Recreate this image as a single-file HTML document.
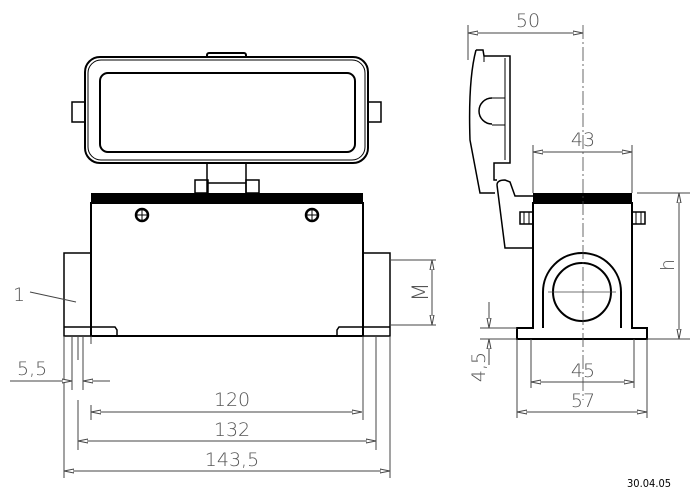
<!DOCTYPE html>
<html><head><style>html,body{margin:0;padding:0;background:#fff}svg{display:block}
text{font-family:"DejaVu Sans","Liberation Sans",sans-serif;font-stretch:condensed;font-size:19px;fill:#555;font-weight:300}</style></head>
<body>
<svg width="700" height="491" viewBox="0 0 700 491" xmlns="http://www.w3.org/2000/svg">
<defs>
<marker id="a" viewBox="0 0 10 6" refX="10" refY="3" markerWidth="10" markerHeight="6" orient="auto-start-reverse" markerUnits="userSpaceOnUse"><path d="M0,1 L10,3 L0,5 Z" fill="#fff" stroke="#444" stroke-width="1"/></marker>
</defs>
<g fill="none" stroke="#000" stroke-width="2">
<rect x="207" y="53" width="39" height="6" rx="2" fill="#fff"/>
<rect x="85" y="57" width="283" height="106" rx="15" fill="#fff"/>
<rect x="88" y="60" width="277" height="100" rx="13" stroke-width="1"/>
<rect x="100" y="73" width="255" height="79" rx="8"/>
<rect x="72" y="102" width="13" height="20" stroke-width="1.5"/>
<rect x="368" y="102" width="13" height="20" stroke-width="1.5"/>
<path d="M207,163 V193 M246,163 V193 M207,183 H246" stroke-width="1.5"/>
<rect x="195" y="180" width="13" height="13" stroke-width="1.5"/>
<rect x="246" y="180" width="13" height="13" stroke-width="1.5"/>
<rect x="91" y="203" width="272" height="133"/>
<rect x="64" y="253" width="27" height="83" stroke-width="1.5"/>
<rect x="363" y="253" width="27" height="83" stroke-width="1.5"/>
<path d="M64,327 H115 L117,330 V336 M390,327 H339 L337,330 V336" stroke-width="1.5"/>
<circle cx="142" cy="215" r="6" stroke-width="2.5"/>
<circle cx="312" cy="215" r="6" stroke-width="2.5"/>
<path d="M136,215 H148 M142,209 V221 M306,215 H318 M312,209 V221" stroke-width="1"/>
<path d="M533,203 V328 H517 V339 H647 V328 H632 V203 Z" fill="#fff"/>
<path d="M543,328 V292 A39,39 0 0 1 621,292 V328"/>
<circle cx="582" cy="292" r="29"/>
<rect x="520" y="212" width="13" height="12" stroke-width="1.5"/>
<rect x="632" y="212" width="13" height="12" stroke-width="1.5"/>
<path d="M524,212 V224 M529,212 V224 M636,212 V224 M641,212 V224" stroke-width="1"/>
<path d="M476,50 H483 L484,56 H510 V163 H494 V180 H497" stroke-width="1.5"/>
<path d="M476,50 Q468,80 470,140 L480,193 H495" stroke-width="1.5"/>
<path d="M484,56 V62 M505,58 V160 M492,98 H505 M492,125 H505" stroke-width="1"/>
<path d="M492,98 A13,13 0 0 0 492,124" stroke-width="1.5"/>
<path d="M497,185 Q497,180 505,180 L510,182 L515,196 H533 M497,185 L505,248 H533" stroke-width="1.5"/>
</g>
<rect x="91" y="193" width="272" height="10" fill="#000"/>
<rect x="533" y="193" width="99" height="10" fill="#000"/>
<g stroke="#444" stroke-width="1" fill="none">
<path d="M64,336 V478 M72,336 V390 M78,336 V360 M83,336 V390 M78,400 V450 M91,336 V344 M91,405 V420 M376,336 V450 M390,336 V478 M363,336 V420"/>
<path d="M390,260 H436 M390,325 H436 M637,193 H690 M647,339 H690 M480,328 H517 M480,339 H517 M531,339 V388 M634,339 V388 M517,339 V418 M647,339 V418 M468,25 V60 M533,145 V193 M632,145 V193"/>
<path d="M583,25 V400" stroke-dasharray="14,3,2,3" stroke-width="0.8"/>
<path d="M548,292 H616" stroke-width="0.8"/>
<line x1="10" y1="381" x2="72" y2="381" marker-end="url(#a)"/>
<line x1="110" y1="381" x2="83" y2="381" marker-end="url(#a)"/>
<line x1="91" y1="412" x2="362" y2="412" marker-start="url(#a)" marker-end="url(#a)"/>
<line x1="78" y1="441" x2="376" y2="441" marker-start="url(#a)" marker-end="url(#a)"/>
<line x1="64" y1="471" x2="390" y2="471" marker-start="url(#a)" marker-end="url(#a)"/>
<line x1="432" y1="260" x2="432" y2="325" marker-start="url(#a)" marker-end="url(#a)"/>
<line x1="468" y1="33" x2="583" y2="33" marker-start="url(#a)" marker-end="url(#a)"/>
<line x1="533" y1="152" x2="632" y2="152" marker-start="url(#a)" marker-end="url(#a)"/>
<line x1="679" y1="193" x2="679" y2="339" marker-start="url(#a)" marker-end="url(#a)"/>
<line x1="531" y1="382" x2="634" y2="382" marker-start="url(#a)" marker-end="url(#a)"/>
<line x1="517" y1="412" x2="647" y2="412" marker-start="url(#a)" marker-end="url(#a)"/>
<line x1="489" y1="302" x2="489" y2="328" marker-end="url(#a)"/>
<line x1="489" y1="365" x2="489" y2="339" marker-end="url(#a)"/>
<line x1="30" y1="292" x2="76" y2="302"/>
</g>
<text x="13" y="301">1</text>
<text x="17" y="375">5,5</text>
<text x="232" y="406" text-anchor="middle">120</text>
<text x="232" y="436" text-anchor="middle">132</text>
<text x="232" y="466" text-anchor="middle">143,5</text>
<text x="528" y="27" text-anchor="middle">50</text>
<text x="583" y="146" text-anchor="middle">43</text>
<text x="583" y="377" text-anchor="middle">45</text>
<text x="583" y="407" text-anchor="middle">57</text>
<text transform="translate(428,292) rotate(-90)" text-anchor="middle" style="font-size:22px">M</text>
<text transform="translate(674,265) rotate(-90)" text-anchor="middle">h</text>
<text transform="translate(485,367) rotate(-90)" text-anchor="middle">4,5</text>
<text x="627" y="487" style="font-size:11px;fill:#000;font-weight:normal">30.04.05</text>
</svg>
</body></html>
